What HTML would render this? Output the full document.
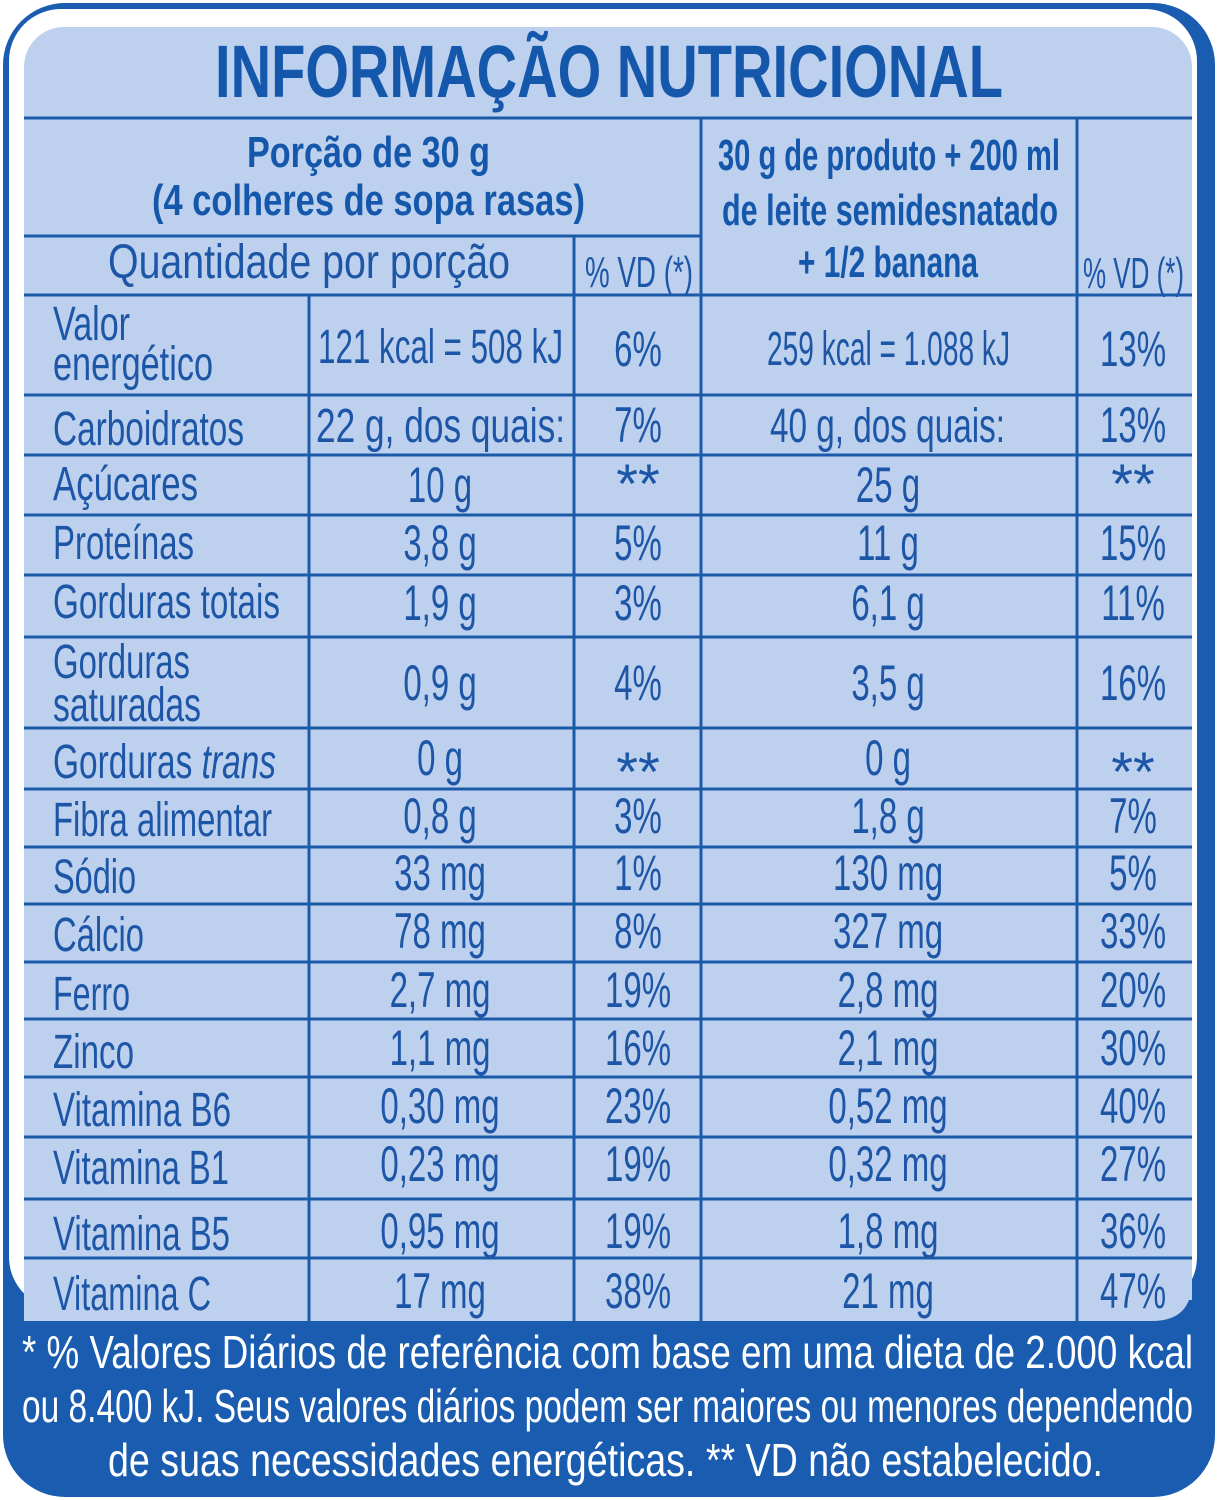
<!DOCTYPE html>
<html><head><meta charset="utf-8"><style>
html,body{margin:0;padding:0;background:#fff;}
svg{display:block;}
text{font-family:"Liberation Sans",sans-serif;}
</style></head><body>
<svg width="1218" height="1500" viewBox="0 0 1218 1500" xmlns="http://www.w3.org/2000/svg">
<rect x="3" y="3" width="1212" height="1494" rx="62" fill="#1a5cb0"/>
<rect x="9" y="9" width="1188" height="1300" rx="52" fill="#ffffff"/>
<rect x="24" y="27" width="1168" height="1293" rx="40" fill="#bdd1ef"/>
<rect x="24" y="1280" width="1168" height="20" fill="#bdd1ef"/>
<path d="M24 1290 L24 1321 L1152 1321 Q1192 1321 1192 1281 L1192 1290 Z" fill="#bdd1ef"/>
<g stroke="#1a5aa8" stroke-width="3" fill="none">
<line x1="24" y1="118" x2="1192" y2="118"/>
<line x1="24" y1="236" x2="701" y2="236"/>
<line x1="24" y1="295" x2="1192" y2="295"/>
<line x1="701" y1="118" x2="701" y2="1321"/>
<line x1="1077" y1="118" x2="1077" y2="1321"/>
<line x1="574" y1="236" x2="574" y2="1321"/>
<line x1="309" y1="295" x2="309" y2="1321"/>
<line x1="24" y1="395" x2="1192" y2="395"/>
<line x1="24" y1="455" x2="1192" y2="455"/>
<line x1="24" y1="515" x2="1192" y2="515"/>
<line x1="24" y1="575" x2="1192" y2="575"/>
<line x1="24" y1="637" x2="1192" y2="637"/>
<line x1="24" y1="728" x2="1192" y2="728"/>
<line x1="24" y1="789" x2="1192" y2="789"/>
<line x1="24" y1="847" x2="1192" y2="847"/>
<line x1="24" y1="904" x2="1192" y2="904"/>
<line x1="24" y1="962" x2="1192" y2="962"/>
<line x1="24" y1="1019" x2="1192" y2="1019"/>
<line x1="24" y1="1077" x2="1192" y2="1077"/>
<line x1="24" y1="1137" x2="1192" y2="1137"/>
<line x1="24" y1="1199" x2="1192" y2="1199"/>
<line x1="24" y1="1258" x2="1192" y2="1258"/>
</g>
<g fill="#1558ab">
<text x="215" y="97" font-size="74" font-weight="bold" textLength="788" lengthAdjust="spacingAndGlyphs">INFORMAÇÃO NUTRICIONAL</text>
<text x="247" y="167" font-size="44" font-weight="bold" textLength="243" lengthAdjust="spacingAndGlyphs">Porção de 30 g</text>
<text x="152" y="215" font-size="44" font-weight="bold" textLength="433" lengthAdjust="spacingAndGlyphs">(4 colheres de sopa rasas)</text>
<text x="718" y="170" font-size="44" font-weight="bold" textLength="342" lengthAdjust="spacingAndGlyphs">30 g de produto + 200 ml</text>
<text x="722" y="225" font-size="44" font-weight="bold" textLength="336" lengthAdjust="spacingAndGlyphs">de leite semidesnatado</text>
<text x="798" y="277" font-size="44" font-weight="bold" textLength="180" lengthAdjust="spacingAndGlyphs">+ 1/2 banana</text>
</g>
<g fill="#1d56a6" font-size="48">
<text x="108" y="278" textLength="402" lengthAdjust="spacingAndGlyphs">Quantidade por porção</text>
<text x="585" y="287" font-size="44" textLength="108" lengthAdjust="spacingAndGlyphs">% VD (*)</text>
<text x="1083" y="288" font-size="44" textLength="101" lengthAdjust="spacingAndGlyphs">% VD (*)</text>
<text x="53" y="340" textLength="77" lengthAdjust="spacingAndGlyphs">Valor</text>
<text x="53" y="380" textLength="160" lengthAdjust="spacingAndGlyphs">energético</text>
<text x="53" y="445" textLength="191" lengthAdjust="spacingAndGlyphs">Carboidratos</text>
<text x="53" y="500" textLength="145" lengthAdjust="spacingAndGlyphs">Açúcares</text>
<text x="53" y="559" textLength="141" lengthAdjust="spacingAndGlyphs">Proteínas</text>
<text x="53" y="618" textLength="227" lengthAdjust="spacingAndGlyphs">Gorduras totais</text>
<text x="53" y="678" textLength="137" lengthAdjust="spacingAndGlyphs">Gorduras</text>
<text x="53" y="721" textLength="148" lengthAdjust="spacingAndGlyphs">saturadas</text>
<text x="53" y="778" textLength="223" lengthAdjust="spacingAndGlyphs">Gorduras <tspan font-style="italic">trans</tspan></text>
<text x="53" y="836" textLength="219" lengthAdjust="spacingAndGlyphs">Fibra alimentar</text>
<text x="53" y="893" textLength="83" lengthAdjust="spacingAndGlyphs">Sódio</text>
<text x="53" y="951" textLength="91" lengthAdjust="spacingAndGlyphs">Cálcio</text>
<text x="53" y="1010" textLength="77" lengthAdjust="spacingAndGlyphs">Ferro</text>
<text x="53" y="1068" textLength="81" lengthAdjust="spacingAndGlyphs">Zinco</text>
<text x="53" y="1126" textLength="178" lengthAdjust="spacingAndGlyphs">Vitamina B6</text>
<text x="53" y="1184" textLength="176" lengthAdjust="spacingAndGlyphs">Vitamina B1</text>
<text x="53" y="1250" textLength="177" lengthAdjust="spacingAndGlyphs">Vitamina B5</text>
<text x="53" y="1310" textLength="158" lengthAdjust="spacingAndGlyphs">Vitamina C</text>
<text x="318" y="363" textLength="245" lengthAdjust="spacingAndGlyphs">121 kcal = 508 kJ</text>
<text x="767" y="365" textLength="243" lengthAdjust="spacingAndGlyphs">259 kcal = 1.088 kJ</text>
<text x="316" y="442" textLength="249" lengthAdjust="spacingAndGlyphs">22 g, dos quais:</text>
<text x="770" y="442" textLength="235" lengthAdjust="spacingAndGlyphs">40 g, dos quais:</text>
</g>
<g fill="#1d56a6" font-size="56" text-anchor="middle">
<text x="638" y="503">**</text><text x="1133" y="503">**</text>
<text x="638" y="791">**</text><text x="1133" y="791">**</text>
</g>
<g fill="#1d56a6" font-size="50" text-anchor="middle">
<g transform="scale(0.66,1)">
<text x="966.7" y="366">6%</text><text x="1716.7" y="366">13%</text>
<text x="966.7" y="442">7%</text><text x="1716.7" y="442">13%</text>
<text x="666.7" y="502">10 g</text><text x="1345.5" y="502">25 g</text>
<text x="666.7" y="560">3,8 g</text><text x="966.7" y="560">5%</text><text x="1345.5" y="560">11 g</text><text x="1716.7" y="560">15%</text>
<text x="666.7" y="620">1,9 g</text><text x="966.7" y="620">3%</text><text x="1345.5" y="620">6,1 g</text><text x="1716.7" y="620">11%</text>
<text x="666.7" y="700">0,9 g</text><text x="966.7" y="700">4%</text><text x="1345.5" y="700">3,5 g</text><text x="1716.7" y="700">16%</text>
<text x="666.7" y="775">0 g</text><text x="1345.5" y="775">0 g</text>
<text x="666.7" y="833">0,8 g</text><text x="966.7" y="833">3%</text><text x="1345.5" y="833">1,8 g</text><text x="1716.7" y="833">7%</text>
<text x="666.7" y="890">33 mg</text><text x="966.7" y="890">1%</text><text x="1345.5" y="890">130 mg</text><text x="1716.7" y="890">5%</text>
<text x="666.7" y="948">78 mg</text><text x="966.7" y="948">8%</text><text x="1345.5" y="948">327 mg</text><text x="1716.7" y="948">33%</text>
<text x="666.7" y="1007">2,7 mg</text><text x="966.7" y="1007">19%</text><text x="1345.5" y="1007">2,8 mg</text><text x="1716.7" y="1007">20%</text>
<text x="666.7" y="1065">1,1 mg</text><text x="966.7" y="1065">16%</text><text x="1345.5" y="1065">2,1 mg</text><text x="1716.7" y="1065">30%</text>
<text x="666.7" y="1123">0,30 mg</text><text x="966.7" y="1123">23%</text><text x="1345.5" y="1123">0,52 mg</text><text x="1716.7" y="1123">40%</text>
<text x="666.7" y="1181">0,23 mg</text><text x="966.7" y="1181">19%</text><text x="1345.5" y="1181">0,32 mg</text><text x="1716.7" y="1181">27%</text>
<text x="666.7" y="1248">0,95 mg</text><text x="966.7" y="1248">19%</text><text x="1345.5" y="1248">1,8 mg</text><text x="1716.7" y="1248">36%</text>
<text x="666.7" y="1308">17 mg</text><text x="966.7" y="1308">38%</text><text x="1345.5" y="1308">21 mg</text><text x="1716.7" y="1308">47%</text>
</g>
</g>
<g fill="#ffffff" font-size="46">
<text x="22" y="1368" textLength="1171" lengthAdjust="spacingAndGlyphs">* % Valores Diários de referência com base em uma dieta de 2.000 kcal</text>
<text x="22" y="1422" textLength="1171" lengthAdjust="spacingAndGlyphs">ou 8.400 kJ. Seus valores diários podem ser maiores ou menores dependendo</text>
<text x="108" y="1476" textLength="995" lengthAdjust="spacingAndGlyphs">de suas necessidades energéticas. ** VD não estabelecido.</text>
</g>
</svg>
</body></html>
